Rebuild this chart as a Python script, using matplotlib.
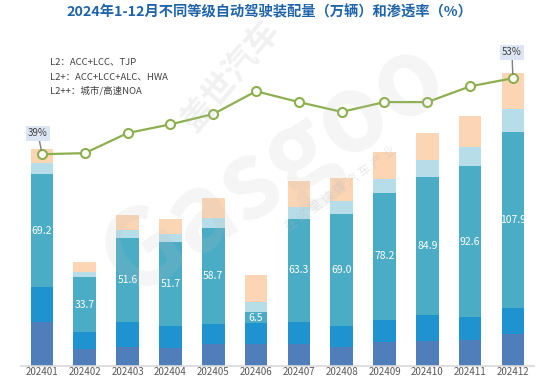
import matplotlib
matplotlib.use("Agg")
import matplotlib.pyplot as plt
import numpy as np

plt.rcParams['font.family'] = ['Noto Sans CJK SC', 'DejaVu Sans']

months = ["202401", "202402", "202403", "202404", "202405", "202406",
          "202407", "202408", "202409", "202410", "202411", "202412"]
seg_dark = [27.0, 10.4, 11.7, 11.0, 13.5, 13.5, 13.5, 11.7, 14.7, 15.3, 16.0, 19.6]
seg_blue = [21.5, 10.4, 15.3, 13.5, 12.3, 12.9, 13.5, 12.9, 13.5, 16.0, 14.1, 16.0]
seg_teal = [69.2, 33.7, 51.6, 51.7, 58.7, 6.5, 63.3, 69.0, 78.2, 84.9, 92.6, 107.9]
seg_light = [6.7, 3.1, 4.9, 4.9, 6.1, 6.7, 7.4, 7.4, 8.6, 10.4, 11.7, 14.1]
seg_peach = [8.6, 6.1, 9.2, 9.2, 12.3, 16.0, 16.0, 14.1, 16.6, 16.6, 19.0, 22.1]
penetration = [39.0, 39.2, 42.9, 44.5, 46.4, 50.6, 48.6, 46.8, 48.6, 48.6, 51.5, 53.0]

legend_lines = ["L2：ACC+LCC、TJP", "L2+：ACC+LCC+ALC、HWA", "L2++：城市/高速NOA"]
title = "2024年1-12月不同等级自动驾驶装配量（万辆）和渗透率（%）"

colors = ["#4F7EBB", "#1F93CF", "#4BACC6", "#B7DDE8", "#FCD5B5"]

fig = plt.figure(figsize=(5.5, 3.78), dpi=100)
ax = fig.add_axes([0.0375, 0.0317, 0.934, 0.862])
x = np.arange(len(months))
w = 0.53
bottom = np.zeros(len(months))
for vals, c in zip([seg_dark, seg_blue, seg_teal, seg_light, seg_peach], colors):
    v = np.array(vals)
    ax.bar(x, v, w, bottom=bottom, color=c, edgecolor='none', zorder=2)
    if c == "#4BACC6":
        for xi, b, vi in zip(x, bottom, v):
            ax.text(xi, b + vi / 2, f"{vi:.1f}", ha='center', va='center',
                    color='white', fontsize=7.5, zorder=3)
    bottom += v

ax.set_xlim(-0.5, len(months) - 0.5)
ax.set_ylim(0, 200)
ax.set_xticks(x)
ax.set_xticklabels(months, fontsize=7, color='#595959')
ax.tick_params(axis='x', length=0, pad=1)
ax.set_yticks([])
for s in ['top', 'right', 'left']:
    ax.spines[s].set_visible(False)
ax.spines['bottom'].set_color('#D9D9D9')
ax.spines['bottom'].set_linewidth(1.2)

ax2 = ax.twinx()
ax2.set_ylim(0, 60)
ax2.plot(x, penetration, color='#8DB04F', lw=1.6, marker='o', markersize=6.5,
         markerfacecolor='white', markeredgecolor='#8DB04F', markeredgewidth=1.5, zorder=5)
ax2.set_yticks([])
for s in ['top', 'right', 'left', 'bottom']:
    ax2.spines[s].set_visible(False)

for idx, off in [(0, (-4, 21)), (11, (-1, 26))]:
    ax2.annotate(f"{penetration[idx]:.0f}%", xy=(x[idx], penetration[idx]),
                 xytext=off, textcoords='offset pixels', ha='center', va='center',
                 fontsize=7, color='#404040',
                 bbox=dict(boxstyle='square,pad=0.25', fc='#DCE6F2', ec='none'),
                 arrowprops=dict(arrowstyle='-', color='#7F7F7F', lw=1,
                                 shrinkA=0, shrinkB=3), zorder=6)

fig.text(0.49, 0.968, title, ha='center', va='center', fontsize=10.3,
         fontweight='bold', color='#1F64AA')

for i, line in enumerate(legend_lines):
    fig.text(0.091, 1 - (62 + i * 14.5) / 378, line, ha='left', va='center',
             fontsize=6.8, color='#404040')

# watermark
fig.text(0.5, 0.55, "Gasgoo", fontsize=76, rotation=33, color='#BBBBBB',
         alpha=0.15, ha='center', va='center', fontweight='bold', zorder=10)
fig.text(0.42, 0.8, "盖世汽车", fontsize=24, rotation=50, color='#BBBBBB',
         alpha=0.2, ha='center', va='center', fontweight='bold', zorder=10)
fig.text(0.62, 0.5, "在 这 里 读 懂 汽 车 产 业", fontsize=9, rotation=36,
         color='#BBBBBB', alpha=0.3, ha='center', va='center', zorder=10)

fig.savefig("out.png", dpi=100)
